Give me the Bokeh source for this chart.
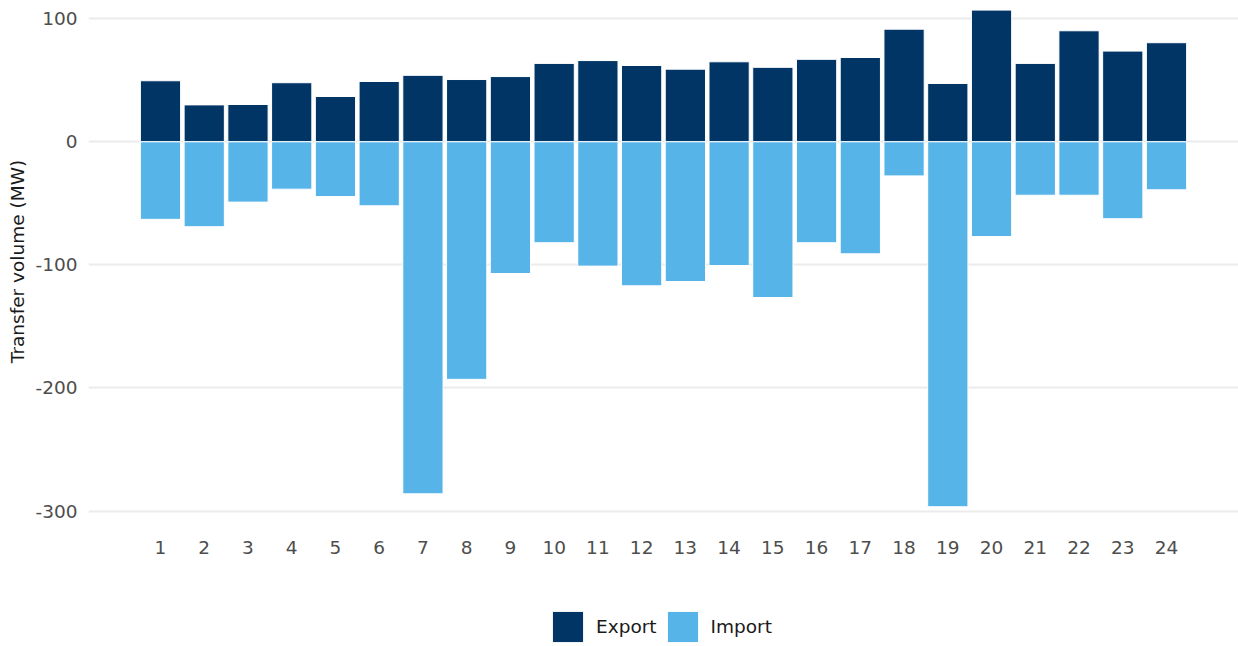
from bokeh.plotting import figure
from bokeh.layouts import column
from bokeh.models import Range1d, FixedTicker, Legend, LegendItem, ColumnDataSource
from bokeh.embed import file_html
from bokeh.resources import INLINE

hours = list(range(1, 25))
export_mw = [49.6, 30, 30.3, 48, 36.8, 49, 54, 50.6, 53, 63.7, 66, 62,
             59, 65, 60.5, 67, 68.5, 91.5, 47.4, 107, 63.7, 90.2, 73.7, 80.5]
import_mw = [-63, -69, -49, -38.5, -44.5, -52, -286, -193, -107, -82, -101, -117,
             -113.5, -100.5, -126.5, -82, -91, -27.7, -296.5, -77, -43.4, -43.4, -62.5, -39]
y_ticks = [100, 0, -100, -200, -300]
series_names = ["Export", "Import"]
colors = ["#003566", "#56B4E9"]

FONT = "DejaVu Sans"
W = 1238

p = figure(width=W, height=560, output_backend="svg", toolbar_location=None,
           x_range=Range1d(-0.646, 25.646), y_range=Range1d(-309.3, 114.8),
           min_border_left=88, min_border_right=0, min_border_top=0, min_border_bottom=38)
p.outline_line_color = None
p.background_fill_color = "white"
p.border_fill_color = "white"

src = ColumnDataSource(dict(x=hours, exp=export_mw, imp=import_mw))
p.vbar(x="x", top="exp", bottom=0, width=0.92, source=src,
       fill_color=colors[0], line_color="white", line_width=1)
p.vbar(x="x", top=0, bottom="imp", width=0.92, source=src,
       fill_color=colors[1], line_color="white", line_width=1)

p.xgrid.grid_line_color = None
p.ygrid.grid_line_color = "#EBEBEB"
p.ygrid.grid_line_width = 2
p.yaxis.ticker = FixedTicker(ticks=y_ticks)
p.xaxis.ticker = FixedTicker(ticks=hours)
p.yaxis.major_label_overrides = {t: str(t) for t in y_ticks}

for ax in (p.xaxis[0], p.yaxis[0]):
    ax.axis_line_color = None
    ax.major_tick_line_color = None
    ax.minor_tick_line_color = None
    ax.major_tick_out = 0
    ax.major_tick_in = 0
    ax.major_label_text_font = FONT
    ax.major_label_text_font_size = "18.5px"
    ax.major_label_text_color = "#4D4D4D"

p.yaxis.major_label_standoff = 11
p.xaxis.major_label_standoff = 18
p.yaxis.axis_label = "Transfer volume (MW)"
p.yaxis.axis_label_text_font = FONT
p.yaxis.axis_label_text_font_size = "18.5px"
p.yaxis.axis_label_text_font_style = "normal"
p.yaxis.axis_label_text_color = "#1A1A1A"
p.yaxis.axis_label_standoff = 5

# legend strip below the chart (its frame is aligned with the chart's frame)
pl = figure(width=W, height=86, output_backend="svg", toolbar_location=None,
            x_range=Range1d(0, 1), y_range=Range1d(0, 1),
            min_border=0, outline_line_color=None)
pl.axis.visible = False
pl.grid.visible = False
dummy = ColumnDataSource(dict(x=[-10], t=[-10], b=[-11]))
l1 = pl.vbar(x="x", top="t", bottom="b", width=0.5, source=dummy,
             fill_color=colors[0], line_color="white", line_width=1)
l2 = pl.vbar(x="x", top="t", bottom="b", width=0.5, source=dummy,
             fill_color=colors[1], line_color="white", line_width=1)
legend = Legend(items=[LegendItem(label=series_names[0], renderers=[l1]),
                       LegendItem(label=series_names[1], renderers=[l2])],
                orientation="horizontal", location=(460, 0),
                glyph_width=39, glyph_height=39, label_standoff=9, spacing=6,
                padding=0, margin=0, border_line_color=None,
                label_text_font=FONT, label_text_font_size="18.5px",
                label_text_color="#1A1A1A", background_fill_alpha=0)
pl.add_layout(legend, "center")

layout = column(p, pl, spacing=0)
open("out.html", "w").write(file_html(layout, INLINE))
